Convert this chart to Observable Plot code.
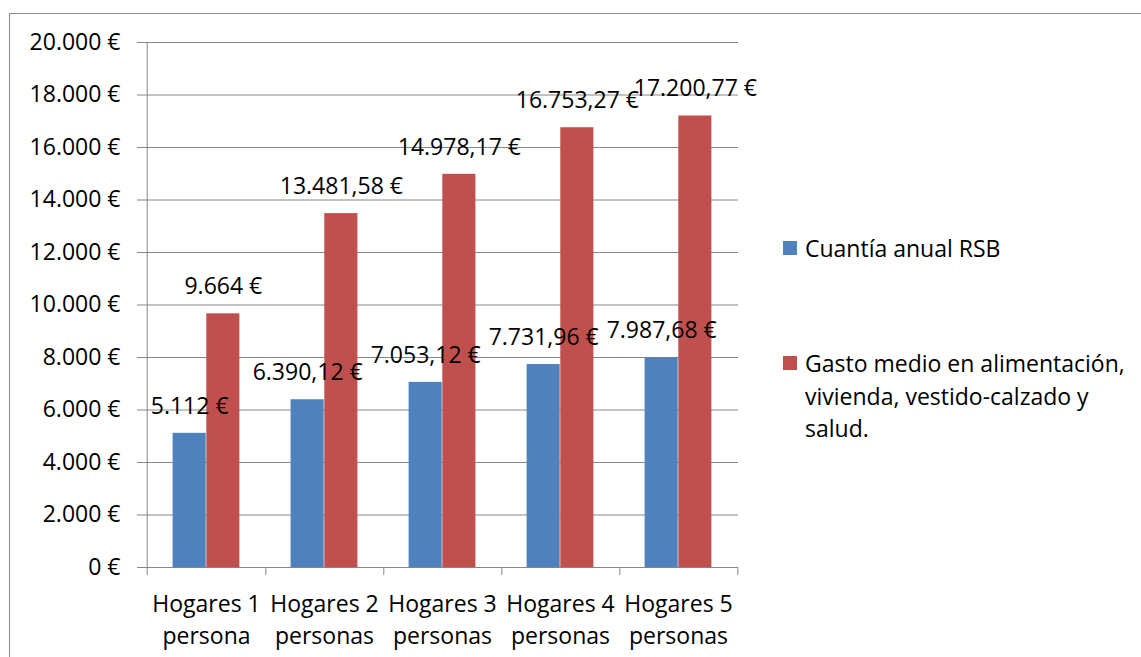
<!DOCTYPE html>
<html>
<head>
<meta charset="utf-8">
<script src="https://cdn.jsdelivr.net/npm/d3@7"></script>
<script src="https://cdn.jsdelivr.net/npm/@observablehq/plot@0.6"></script>
<style>
  html, body { margin: 0; padding: 0; background: #fff; overflow: hidden; width: 1141px; height: 657px; }
  #wrap { position: relative; width: 1141px; height: 657px; font-family: "Open Sans", sans-serif; color: #000; }
  #border { position: absolute; left: 9px; top: 13px; width: 1300px; height: 800px; border: 1px solid #8c8c8c; box-sizing: border-box; }
  #chart { position: absolute; left: 0; top: 0; }
  .leg { position: absolute; font-size: 23px; line-height: 32.5px; white-space: nowrap; }
  .sw { position: absolute; width: 14px; height: 14px; }
</style>
</head>
<body>
<div id="wrap">
  <div id="border"></div>
  <div id="chart"></div>
  <div id="legend"></div>
</div>
<script>
const categories = ["Hogares 1\npersona", "Hogares 2\npersonas", "Hogares 3\npersonas", "Hogares 4\npersonas", "Hogares 5\npersonas"];
const seriesNames = ["Cuantía anual RSB", "Gasto medio en alimentación,\nvivienda, vestido-calzado y\nsalud."];
const seriesColors = ["#4F81BD", "#C0504D"];
const rsbValues = [5112, 6390.12, 7053.12, 7731.96, 7987.68];
const gastoValues = [9664, 13481.58, 14978.17, 16753.27, 17200.77];
const rsbLabels = ["5.112 €", "6.390,12 €", "7.053,12 €", "7.731,96 €", "7.987,68 €"];
const gastoLabels = ["9.664 €", "13.481,58 €", "14.978,17 €", "16.753,27 €", "17.200,77 €"];
const yTicks = [0, 2000, 4000, 6000, 8000, 10000, 12000, 14000, 16000, 18000, 20000];
const yTickLabels = ["0 €", "2.000 €", "4.000 €", "6.000 €", "8.000 €", "10.000 €", "12.000 €", "14.000 €", "16.000 €", "18.000 €", "20.000 €"];

const rsb = categories.map((c, i) => ({cat: c, value: rsbValues[i], label: rsbLabels[i]}));
const gasto = categories.map((c, i) => ({cat: c, value: gastoValues[i], label: gastoLabels[i]}));

const W = 760, H = 657, ML = 145, MR = 22, MT = 42, MB = 90;
const step = (W - ML - MR) / categories.length;
const outer = 25.6, barW = 33.7;
const gray = "#868686";
const fontSize = 23;

const chart = Plot.plot({
  width: W, height: H,
  marginLeft: ML, marginRight: MR, marginTop: MT, marginBottom: MB,
  style: {fontFamily: "'Open Sans', sans-serif", fontSize: fontSize + "px", color: "#000", background: "transparent", overflow: "visible"},
  x: {domain: categories, padding: 0, axis: null, label: null},
  y: {domain: [0, 20000], axis: null, label: null},
  marks: [
    Plot.gridY(yTicks, {stroke: gray, strokeOpacity: 1, strokeWidth: 1}),
    Plot.axisY(yTicks, {tickSize: 8, tickPadding: 17, stroke: gray, strokeOpacity: 1, label: null,
      tickFormat: d => yTickLabels[yTicks.indexOf(d)], fontSize: fontSize, fill: "#000"}),
    Plot.barY(rsb, {x: "cat", y: "value", fill: seriesColors[0], insetLeft: outer, insetRight: step - outer - barW}),
    Plot.barY(gasto, {x: "cat", y: "value", fill: seriesColors[1], insetLeft: outer + barW, insetRight: step - outer - 2 * barW}),
    Plot.ruleX(categories.slice(0, 1), {stroke: gray, strokeWidth: 1, dx: -step / 2, insetBottom: -8}),
    Plot.ruleX(categories, {stroke: gray, strokeWidth: 1, dx: step / 2, insetTop: H - MT - MB, insetBottom: -8}),
    Plot.text(rsb, {x: "cat", y: "value", text: "label", dx: outer + barW / 2 - step / 2, dy: -27, fontSize: fontSize, fill: "#000"}),
    Plot.text(gasto, {x: "cat", y: "value", text: "label", dx: outer + barW * 1.5 - step / 2, dy: -27, fontSize: fontSize, fill: "#000"}),
    Plot.axisX({tickSize: 0, tickPadding: 22, lineHeight: 1.38, fontSize: fontSize, fill: "#000", label: null, tickFormat: d => d})
  ]
});
document.getElementById("chart").appendChild(chart);

const legend = document.getElementById("legend");
const legendTop = [232, 347];
seriesNames.forEach((name, i) => {
  const sw = document.createElement("div");
  sw.className = "sw";
  sw.style.left = "783px";
  sw.style.top = (legendTop[i] + 9) + "px";
  sw.style.background = seriesColors[i];
  legend.appendChild(sw);
  const t = document.createElement("div");
  t.className = "leg";
  t.style.left = "805px";
  t.style.top = legendTop[i] + "px";
  name.split("\n").forEach((line, j) => {
    if (j) t.appendChild(document.createElement("br"));
    t.appendChild(document.createTextNode(line));
  });
  legend.appendChild(t);
});
</script>
</body>
</html>
